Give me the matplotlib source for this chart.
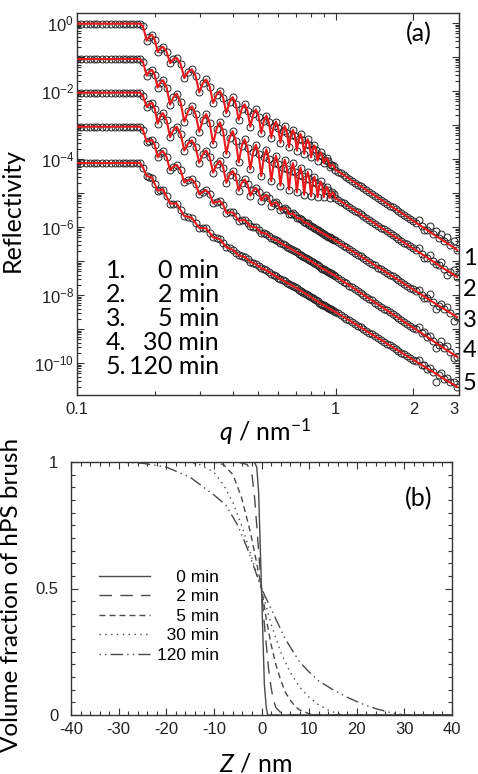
import numpy as np
import matplotlib
matplotlib.use('Agg')
import matplotlib.pyplot as plt
from matplotlib.ticker import FixedLocator, NullFormatter, FuncFormatter, LogLocator, MultipleLocator

plt.rcParams['font.family'] = ['Liberation Sans', 'DejaVu Sans']
plt.rcParams['axes.unicode_minus'] = False
plt.rcParams['mathtext.fontset'] = 'custom'
plt.rcParams['mathtext.rm'] = 'Lato'
plt.rcParams['mathtext.it'] = 'Lato:italic'

LABEL_FONT = ['Lato', 'DejaVu Sans']

# ---------------- (a) reflectivity profiles, q in nm^-1 ----------------
q_plateau = [0.100, 0.104, 0.108, 0.112, 0.116, 0.120, 0.125, 0.130, 0.135,
             0.140, 0.145, 0.150, 0.155, 0.160, 0.165, 0.170, 0.175]
# fringe maxima / minima
q_fringe = [0.180, 0.186, 0.195, 0.205, 0.215, 0.229, 0.243, 0.260, 0.278, 0.297,
            0.316, 0.336, 0.357, 0.378, 0.400, 0.422, 0.445, 0.468, 0.492, 0.516,
            0.540, 0.564, 0.588, 0.612, 0.636, 0.660, 0.684, 0.708, 0.732, 0.756,
            0.780, 0.804, 0.828, 0.852, 0.876, 0.900, 0.924, 0.948, 0.972, 0.996]
# points on the flanks between them
q_flank = [0.1905, 0.200, 0.210, 0.222, 0.236, 0.2515, 0.269, 0.2875, 0.3065, 0.326,
           0.3465, 0.3675, 0.389, 0.411, 0.4335, 0.4565, 0.480, 0.504, 0.528, 0.552,
           0.576, 0.600, 0.624, 0.648, 0.672, 0.696, 0.720, 0.744, 0.768, 0.792,
           0.816, 0.840, 0.864, 0.888, 0.912, 0.936, 0.960, 0.984]
q_tail = [1.05, 1.10, 1.16, 1.22, 1.28, 1.35, 1.42, 1.50, 1.58, 1.66, 1.75,
          1.84, 1.94, 2.04, 2.15, 2.26, 2.38, 2.50, 2.63, 2.77, 2.95]
# extra measured points in the high-q tail (symbols only)
q_extra = [1.025, 1.075, 1.13, 1.19, 1.25, 1.315, 1.385, 1.46, 1.54, 1.62, 1.705,
           1.795, 1.89, 1.99, 2.095, 2.205, 2.32, 2.44, 2.565, 2.70, 2.86]

# log10(R) (curves already offset by the authors)
plateau = [-0.02, -1.06, -2.05, -3.05, -4.12]

fringe_1 = [-0.10, -0.52, -0.35, -0.85, -0.70, -1.18, -1.02, -1.62, -1.36, -2.04,
            -1.66, -2.35, -2.00, -2.65, -2.18, -2.85, -2.39, -3.05, -2.54, -3.24,
            -2.72, -3.38, -2.90, -3.52, -3.03, -3.65, -3.14, -3.75, -3.26, -3.85,
            -3.42, -3.95, -3.60, -4.05, -3.80, -4.12, -3.98, -4.22, -4.17, -4.31]
fringe_2 = [-1.15, -1.55, -1.38, -1.90, -1.68, -2.40, -2.08, -2.90, -2.45, -3.20,
            -2.68, -3.55, -2.92, -3.85, -3.18, -4.10, -3.42, -4.30, -3.58, -4.50,
            -3.72, -4.65, -3.90, -4.78, -4.02, -4.90, -4.12, -4.98, -4.25, -5.05,
            -4.38, -5.10, -4.52, -5.12, -4.66, -5.12, -4.82, -5.14, -4.98, -5.15]
fringe_3 = [-2.15, -2.47, -2.35, -2.96, -2.65, -3.36, -3.05, -3.75, -3.45, -4.11,
            -3.75, -4.40, -4.05, -4.70, -4.35, -4.93, -4.60, -5.08, -4.85, -5.22,
            -5.06, -5.37, -5.27, -5.50, -5.44, -5.62, -5.60, -5.73, -5.75, -5.86,
            -5.89, -5.97, -6.03, -6.08, -6.15, -6.20, -6.25, -6.30, -6.35, -6.39]
fringe_4 = [-3.15, -3.49, -3.44, -3.95, -3.77, -4.33, -4.17, -4.69, -4.59, -5.04,
            -4.92, -5.30, -5.24, -5.58, -5.57, -5.81, -5.79, -5.98, -6.01, -6.17,
            -6.19, -6.33, -6.38, -6.47, -6.54, -6.61, -6.68, -6.74, -6.81, -6.88,
            -6.94, -7.00, -7.07, -7.12, -7.19, -7.24, -7.29, -7.34, -7.39, -7.43]
fringe_5 = [-4.25, -4.50, -4.55, -4.93, -4.90, -5.31, -5.31, -5.68, -5.73, -6.03,
            -6.04, -6.30, -6.36, -6.59, -6.67, -6.83, -6.88, -7.02, -7.09, -7.21,
            -7.27, -7.37, -7.45, -7.53, -7.60, -7.67, -7.74, -7.80, -7.87, -7.94,
            -8.00, -8.06, -8.13, -8.18, -8.25, -8.30, -8.35, -8.40, -8.45, -8.49]

flank_1 = [-0.40, -0.50, -0.75, -0.84, -1.07, -1.20, -1.44, -1.56, -1.77, -1.87,
           -2.11, -2.20, -2.32, -2.38, -2.53, -2.59, -2.69, -2.75, -2.88, -2.92,
           -3.04, -3.09, -3.18, -3.22, -3.29, -3.32, -3.41, -3.44, -3.55, -3.58,
           -3.70, -3.73, -3.87, -3.90, -4.02, -4.05, -4.19, -4.21]
flank_2 = [-1.43, -1.54, -1.75, -1.90, -2.18, -2.33, -2.59, -2.68, -2.84, -2.94,
           -3.11, -3.20, -3.38, -3.46, -3.62, -3.68, -3.80, -3.86, -3.95, -4.00,
           -4.13, -4.16, -4.25, -4.28, -4.35, -4.38, -4.47, -4.49, -4.58, -4.60,
           -4.69, -4.70, -4.80, -4.80, -4.91, -4.92, -5.03, -5.03]
flank_3 = [-2.39, -2.53, -2.74, -2.86, -3.14, -3.26, -3.54, -3.65, -3.86, -3.95,
           -4.16, -4.25, -4.46, -4.52, -4.70, -4.74, -4.92, -4.96, -5.11, -5.15,
           -5.30, -5.34, -5.46, -5.49, -5.61, -5.66, -5.74, -5.80, -5.88, -5.93,
           -6.00, -6.06, -6.12, -6.18, -6.22, -6.28, -6.32, -6.37]
flank_4 = [-3.46, -3.59, -3.82, -3.94, -4.22, -4.33, -4.62, -4.73, -4.96, -5.03,
           -5.26, -5.34, -5.57, -5.69, -5.80, -5.88, -6.00, -6.09, -6.18, -6.26,
           -6.36, -6.42, -6.50, -6.58, -6.64, -6.71, -6.78, -6.84, -6.91, -6.97,
           -7.04, -7.10, -7.16, -7.22, -7.26, -7.32, -7.36, -7.41]
flank_5 = [-4.52, -4.74, -4.91, -5.10, -5.31, -5.50, -5.70, -5.88, -6.03, -6.17,
           -6.33, -6.48, -6.63, -6.75, -6.86, -6.95, -7.06, -7.15, -7.24, -7.32,
           -7.41, -7.49, -7.56, -7.64, -7.70, -7.77, -7.84, -7.90, -7.97, -8.03,
           -8.10, -8.16, -8.22, -8.28, -8.32, -8.38, -8.42, -8.47]

tail_1 = [-4.42, -4.52, -4.64, -4.75, -4.85, -4.97, -5.08, -5.20, -5.31, -5.42, -5.53,
          -5.64, -5.76, -5.87, -5.98, -6.09, -6.21, -6.31, -6.42, -6.53, -6.67]
tail_2 = [-5.25, -5.35, -5.47, -5.57, -5.68, -5.79, -5.90, -6.02, -6.13, -6.24, -6.35,
          -6.46, -6.57, -6.68, -6.79, -6.90, -7.01, -7.12, -7.23, -7.33, -7.47]
tail_3 = [-6.50, -6.60, -6.71, -6.81, -6.91, -7.02, -7.13, -7.24, -7.35, -7.45, -7.56,
          -7.67, -7.78, -7.88, -7.99, -8.10, -8.21, -8.31, -8.41, -8.52, -8.65]
tail_4 = [-7.56, -7.66, -7.77, -7.88, -7.99, -8.11, -8.22, -8.34, -8.45, -8.56, -8.67,
          -8.79, -8.90, -9.01, -9.12, -9.23, -9.35, -9.46, -9.57, -9.68, -9.82]
tail_5 = [-8.60, -8.69, -8.80, -8.90, -9.00, -9.11, -9.21, -9.32, -9.43, -9.53, -9.64,
          -9.74, -9.85, -9.95, -10.05, -10.16, -10.26, -10.36, -10.47, -10.57, -10.70]

extra_1 = [-4.37, -4.47, -4.58, -4.70, -4.80, -4.91, -5.02, -5.14, -5.26, -5.37, -5.47,
           -5.59, -5.70, -5.82, -5.80, -6.10, -5.98, -6.12, -6.20, -6.30, -6.42]
extra_2 = [-5.20, -5.30, -5.41, -5.52, -5.62, -5.73, -5.84, -5.96, -6.07, -6.18, -6.29,
           -6.40, -6.51, -6.62, -6.62, -6.90, -6.82, -7.10, -7.02, -7.40, -7.25]
extra_3 = [-6.44, -6.55, -6.66, -6.76, -6.86, -6.97, -7.08, -7.19, -7.30, -7.40, -7.50,
           -7.62, -7.72, -7.83, -7.85, -8.10, -7.98, -8.40, -8.25, -8.35, -8.75]
extra_4 = [-7.50, -7.61, -7.72, -7.82, -7.94, -8.05, -8.16, -8.28, -8.40, -8.50, -8.62,
           -8.73, -8.84, -8.96, -8.95, -9.10, -9.20, -9.55, -9.35, -9.50, -9.85]
extra_5 = [-8.54, -8.64, -8.74, -8.85, -8.95, -9.06, -9.16, -9.26, -9.38, -9.48, -9.58,
           -9.69, -9.80, -9.90, -9.92, -10.05, -10.15, -10.55, -10.30, -10.45, -10.55]

fringes = [fringe_1, fringe_2, fringe_3, fringe_4, fringe_5]
flanks = [flank_1, flank_2, flank_3, flank_4, flank_5]
tails = [tail_1, tail_2, tail_3, tail_4, tail_5]
extras = [extra_1, extra_2, extra_3, extra_4, extra_5]
times_a = ['0', '2', '5', '30', '120']

# ---------------- (b) volume fraction profiles, Z in nm ----------------
z_0 = [-40, -1.5, -1.0, -0.6, 0, 0.6, 1.0, 1.3, 40]
phi_0 = [1, 1, 0.98, 0.88, 0.5, 0.12, 0.03, 0.0, 0]
z_2 = [-40, -5, -3, -2, -1.5, -1, -0.5, 0, 0.5, 1, 1.5, 2, 2.5, 3, 4, 5, 40]
phi_2 = [1, 1, 0.99, 0.95, 0.87, 0.75, 0.62, 0.5, 0.38, 0.28, 0.18, 0.11, 0.06, 0.03, 0.01, 0, 0]
z_5 = [-40, -10, -8, -6, -4.2, -2.3, -1, 0, 1, 2, 3, 4, 5, 6, 7, 8, 10, 12, 40]
phi_5 = [1, 1, 0.99, 0.95, 0.86, 0.72, 0.6, 0.5, 0.38, 0.28, 0.2, 0.14, 0.09, 0.06, 0.035, 0.02, 0.005, 0, 0]
z_30 = [-40, -16, -13, -10, -8, -6, -4, -2, 0, 2, 4, 6, 8, 10, 12, 14, 16, 18, 40]
phi_30 = [1, 1, 0.99, 0.96, 0.91, 0.84, 0.74, 0.62, 0.5, 0.36, 0.25, 0.17, 0.11, 0.07, 0.04, 0.02, 0.005, 0, 0]
z_120 = [-40, -30, -25, -20, -15, -10, -7.5, -5, -3, -1.5, 0, 2, 5, 8, 10, 12, 15, 18, 21, 24, 27, 30, 40]
phi_120 = [1, 1, 0.995, 0.98, 0.94, 0.87, 0.83, 0.75, 0.66, 0.58, 0.5, 0.42, 0.3, 0.21, 0.17, 0.135,
           0.1, 0.07, 0.045, 0.025, 0.01, 0, 0]

profiles = [(z_0, phi_0), (z_2, phi_2), (z_5, phi_5), (z_30, phi_30), (z_120, phi_120)]
labels_b = ['\u2007\u20070 min', '\u2007\u20072 min', '\u2007\u20075 min', '\u200730 min', '120 min']
styles_b = ['-', (0, (9, 6)), (0, (4.3, 2.9)), (0, (1, 3.2)), (0, (1, 3, 1, 3, 9, 3))]


W, H = 478, 774
fig = plt.figure(figsize=(W / 100, H / 100), dpi=100)

def px_axes(l, t, r, b):
    return fig.add_axes([l / W, 1 - b / H, (r - l) / W, (b - t) / H])

def tick_style(ax):
    ax.tick_params(which='both', direction='in', top=True, right=True,
                   width=0.8, colors='#333333', labelcolor='#222222')
    ax.tick_params(which='major', length=5)
    ax.tick_params(which='minor', length=3)
    for s in ax.spines.values():
        s.set_linewidth(1.0)
        s.set_color('#333333')

# ---- panel (a)
ax1 = px_axes(77, 13, 459, 395)
q_all = np.array(q_plateau + q_fringe + q_flank + q_tail)
order = np.argsort(q_all)
for k in range(5):
    logR = np.array([plateau[k]] * len(q_plateau) + fringes[k] + flanks[k] + tails[k])
    q, R = q_all[order], 10.0 ** logR[order]
    ax1.plot(q, R, 'o', ms=5, mfc='none', mec='#222222', mew=0.7, zorder=2)
    ax1.plot(q_extra, 10.0 ** np.array(extras[k]), 'o', ms=5, mfc='none',
             mec='#222222', mew=0.7, zorder=2)
    ax1.plot(q, R, '-', color='#e8191c', lw=1.5, zorder=3)

ax1.set_xscale('log')
ax1.set_yscale('log')
ax1.set_xlim(0.1, 3.0)
ax1.set_ylim(1.15e-11, 1.97)
ax1.xaxis.set_major_locator(FixedLocator([0.1, 1, 2, 3]))
ax1.xaxis.set_major_formatter(FuncFormatter(lambda v, p: {0.1: '0.1', 1: '1', 2: '2', 3: '3'}.get(round(v, 1), '')))
ax1.xaxis.set_minor_locator(FixedLocator([0.2, 0.3, 0.4, 0.5, 0.6, 0.7, 0.8, 0.9]))
ax1.xaxis.set_minor_formatter(NullFormatter())
ax1.yaxis.set_major_locator(LogLocator(base=10, numticks=20))

def sci_label(v, pos):
    e = int(round(np.log10(v)))
    return r'$\mathdefault{10^{%d}}$' % e if e % 2 == 0 else ''

ax1.yaxis.set_major_formatter(FuncFormatter(sci_label))
ax1.yaxis.set_minor_locator(LogLocator(base=10, subs=np.arange(2, 10), numticks=20))
ax1.yaxis.set_minor_formatter(NullFormatter())
tick_style(ax1)
ax1.tick_params(axis='x', labelsize=12, pad=5)
ax1.tick_params(axis='y', labelsize=12, pad=2)
for t in ax1.get_xticklabels():
    if t.get_text() == '3':
        t.set_ha('right')

fig.text(12 / W, 1 - 210 / H, 'Reflectivity', rotation=90, ha='center', va='center',
         fontsize=18, family=LABEL_FONT)
fig.text(265 / W, 1 - 432 / H, r'$q$ / nm$^{-1}$', ha='center', va='center',
         fontsize=18, family=LABEL_FONT)
fig.text(419 / W, 1 - 34 / H, '(a)', ha='center', va='center', fontsize=18, family=LABEL_FONT)

base_a = [278, 302, 326, 350, 374]
for k in range(5):
    fig.text(106 / W, 1 - base_a[k] / H, f'{k + 1}.', ha='left', va='baseline',
             fontsize=18, family=LABEL_FONT)
    fig.text(219 / W, 1 - base_a[k] / H, f'{times_a[k]} min', ha='right', va='baseline',
             fontsize=18, family=LABEL_FONT)

base_r = [265, 296, 327, 357, 390]
for k in range(5):
    fig.text(463 / W, 1 - base_r[k] / H, f'{k + 1}', ha='left', va='baseline',
             fontsize=17, family=LABEL_FONT)

# ---- panel (b)
ax2 = px_axes(71, 462, 452, 715)
for (z, phi), lab, ls in zip(profiles, labels_b, styles_b):
    ax2.plot(z, phi, color='#4a4a4a', lw=1.0, linestyle=ls, label=lab)

ax2.set_xlim(-40, 40)
ax2.set_ylim(0, 1)
ax2.xaxis.set_major_locator(MultipleLocator(10))
ax2.xaxis.set_minor_locator(MultipleLocator(2))
ax2.yaxis.set_major_locator(FixedLocator([0, 0.5, 1]))
ax2.yaxis.set_major_formatter(FuncFormatter(lambda v, p: {0: '0', 0.5: '0.5', 1: '1'}[round(v, 1)]))
ax2.yaxis.set_minor_locator(MultipleLocator(0.05))
tick_style(ax2)
ax2.tick_params(axis='x', labelsize=12, pad=5)
ax2.tick_params(axis='y', labelsize=12, pad=9)

leg = ax2.legend(loc='upper left', bbox_to_anchor=(0.073, 0.575), frameon=False,
                 fontsize=12.5, handlelength=2.95, handletextpad=0.4, labelspacing=0.25,
                 borderpad=0, borderaxespad=0)

fig.text(12 / W, 1 - 595 / H, 'Volume fraction of hPS brush', rotation=90, ha='center',
         va='center', fontsize=17.5, family=LABEL_FONT)
fig.text(256 / W, 1 - 771 / H, r'$Z$ / nm', ha='center', va='baseline',
         fontsize=18, family=LABEL_FONT)
fig.text(419 / W, 1 - 499 / H, '(b)', ha='center', va='center', fontsize=18, family=LABEL_FONT)

fig.savefig('out.png', dpi=100)
